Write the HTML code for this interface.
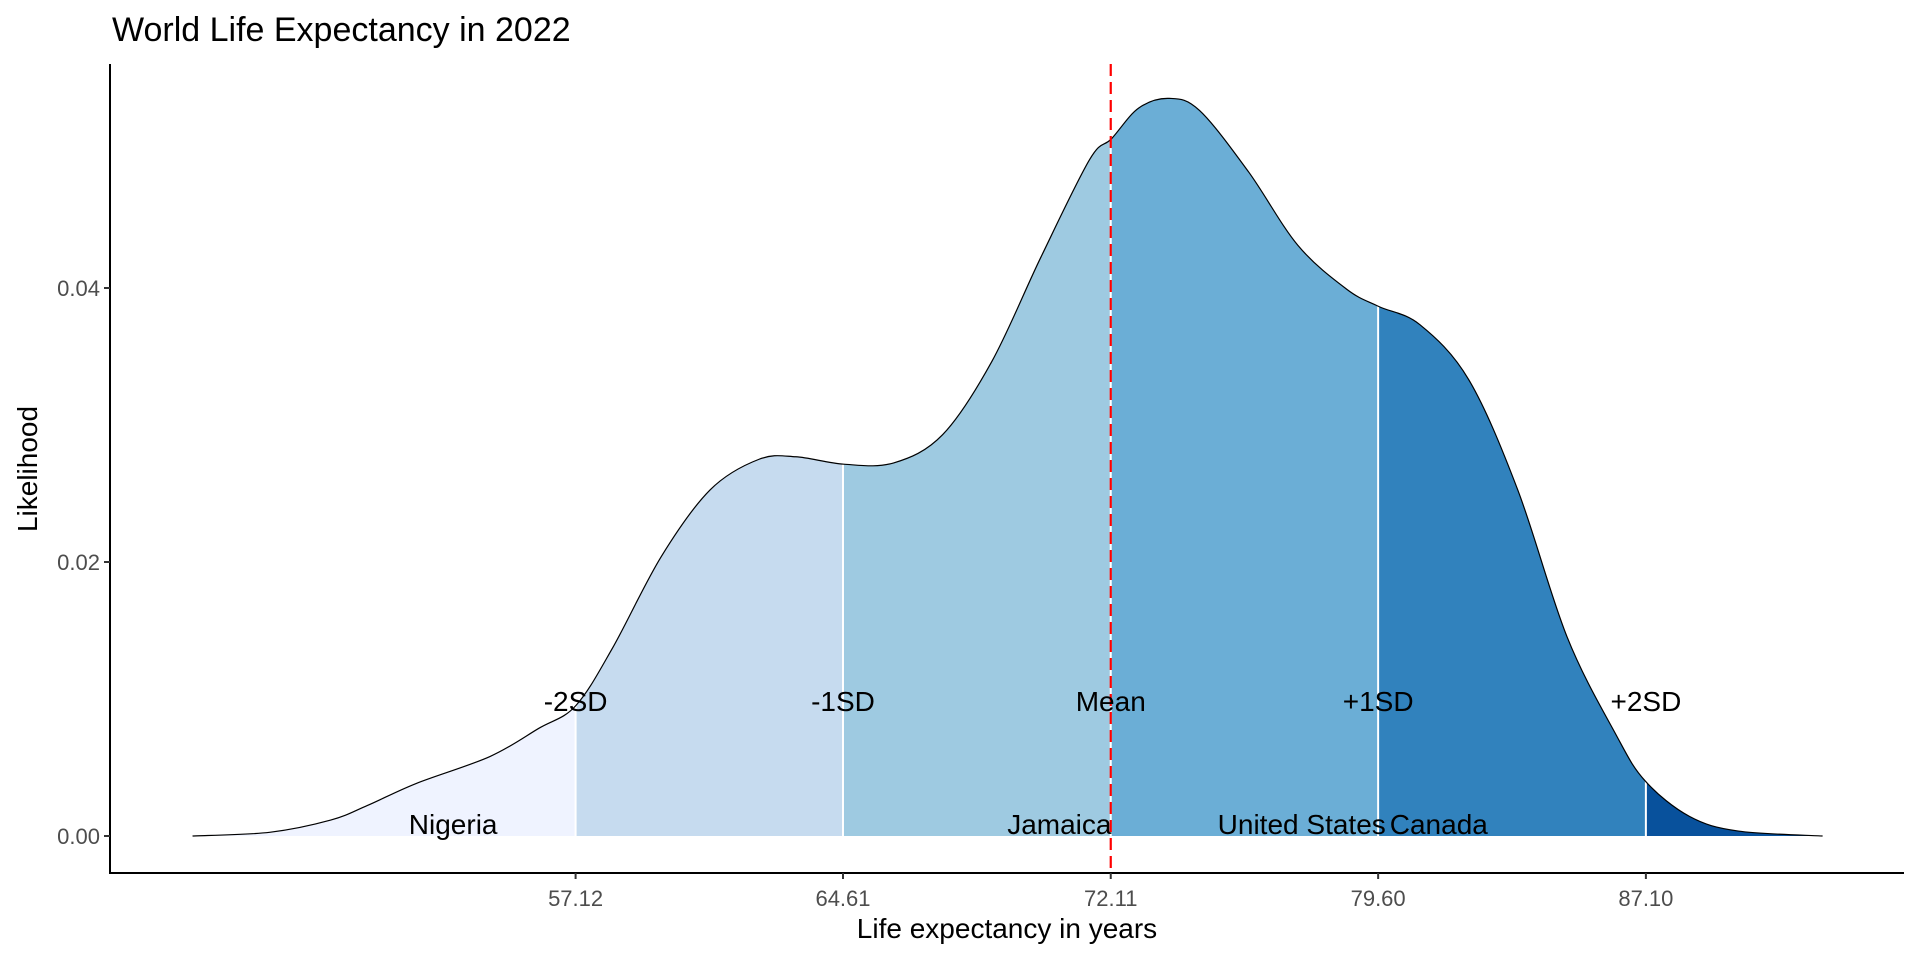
<!DOCTYPE html>
<html><head><meta charset="utf-8"><style>
html,body{margin:0;padding:0;background:#fff;}
svg{display:block;font-family:"Liberation Sans",sans-serif;}
</style></head><body>
<svg id="chart" width="1920" height="960" viewBox="0 0 1920 960">
<text x="112" y="41" font-size="34" fill="#000">World Life Expectancy in 2022</text>
<g id="plot"></g>
<text x="1007" y="938" font-size="28" text-anchor="middle">Life expectancy in years</text>
<text transform="translate(37,469) rotate(-90)" font-size="28" text-anchor="middle">Likelihood</text>
</svg>
<script>
const xs = [46.39,48.55,50.26,51.29,52.66,54.72,56.09,57.12,58.15,59.52,60.89,62.26,63.29,64.63,66.03,67.40,68.78,70.15,71.52,72.13,72.89,73.75,74.60,75.97,77.35,78.72,79.61,80.77,82.14,83.51,84.89,86.26,87.08,88.32,89.69,92.05];
const dens = [0,0.00027,0.00116,0.00223,0.00384,0.0058,0.00786,0.0095,0.0137,0.0204,0.02527,0.0275,0.02768,0.02714,0.02723,0.02929,0.03464,0.04223,0.04938,0.05089,0.05313,0.05384,0.05295,0.04848,0.04312,0.03991,0.03866,0.03732,0.0333,0.02527,0.01455,0.00741,0.00402,0.00143,0.00036,0];
const sdBreaks = [57.12,64.61,72.11,79.60,87.10];
const sdLabels = ["-2SD","-1SD","Mean","+1SD","+2SD"];
const yTicks = [0,0.02,0.04];
const yTickLabels = ["0.00","0.02","0.04"];
const countries = ["Nigeria","Jamaica","United States","Canada"];
const countryX = [53.69,70.67,77.46,81.30];
const meanValue = 72.11;
const fills = ["#EFF3FF","#C6DBEF","#9ECAE1","#6BAED6","#3182BD","#08519C"];

const NS="http://www.w3.org/2000/svg";
const L=110,R=1904,T=64,B=873;
const X=v=>575.6+(v-57.12)*35.70;
const Y=v=>836-v*13700;
const g=document.getElementById('plot');
function mk(t,a,p){const e=document.createElementNS(NS,t);for(const k in a)e.setAttribute(k,a[k]);(p||g).appendChild(e);return e;}
const P=xs.map((x,i)=>[X(x),Y(dens[i])]);
let d=`M${P[0][0]},${P[0][1]}`;
for(let i=0;i<P.length-1;i++){const p0=P[Math.max(0,i-1)],p1=P[i],p2=P[i+1],p3=P[Math.min(P.length-1,i+2)];
d+=` C${p1[0]+(p2[0]-p0[0])/6},${p1[1]+(p2[1]-p0[1])/6} ${p2[0]-(p3[0]-p1[0])/6},${p2[1]-(p3[1]-p1[1])/6} ${p2[0]},${p2[1]}`;}
const area=d+` L${P[P.length-1][0]},${Y(0)} L${P[0][0]},${Y(0)} Z`;
const defs=mk('defs',{});
const edges=[X(xs[0])-2,...sdBreaks.map(X),X(xs[xs.length-1])+2];
for(let i=0;i<6;i++){
  const cp=mk('clipPath',{id:'c'+i},defs);
  mk('rect',{x:edges[i],y:0,width:edges[i+1]-edges[i],height:960},cp);
  const a=mk('path',{d:area,fill:fills[i],'clip-path':'url(#c'+i+')'});
  
  
}
const cl=mk('clipPath',{id:'cl'},defs);mk('path',{d:area},cl);
sdBreaks.forEach((b,i)=>{
  const xi=X(b);
  const ln=mk('line',{x1:xi,x2:xi,y1:0,y2:Y(0),stroke:'#fff','stroke-width':2,'clip-path':'url(#cl)'});
  
  
});
const curve=mk('path',{d:d,fill:'none',stroke:'#000','stroke-width':1.2});


const ml=mk('line',{x1:X(meanValue),x2:X(meanValue),y1:T,y2:B,stroke:'#FF0000','stroke-width':2.2,'stroke-dasharray':'12,6'});


sdBreaks.forEach((b,i)=>{const t=mk('text',{x:X(b),y:711,'font-size':28,'text-anchor':'middle'});t.textContent=sdLabels[i];

});
countries.forEach((c,i)=>{const t=mk('text',{x:X(countryX[i]),y:834,'font-size':28,'text-anchor':'middle'});t.textContent=c;

});
mk('line',{x1:L,x2:L,y1:T,y2:B+1,stroke:'#000','stroke-width':2});
mk('line',{x1:L-1,x2:R,y1:B,y2:B,stroke:'#000','stroke-width':2});
yTicks.forEach((v,i)=>{mk('line',{x1:L-6,x2:L,y1:Y(v),y2:Y(v),stroke:'#333','stroke-width':2});
const t=mk('text',{x:L-10,y:Y(v)+8,'font-size':22,'text-anchor':'end',fill:'#4d4d4d'});t.textContent=yTickLabels[i];

});
sdBreaks.forEach(b=>{mk('line',{x1:X(b),x2:X(b),y1:B,y2:B+6,stroke:'#333','stroke-width':2});
const t=mk('text',{x:X(b),y:906,'font-size':22,'text-anchor':'middle',fill:'#4d4d4d'});t.textContent=b.toFixed(2);

});
</script>
</body></html>
